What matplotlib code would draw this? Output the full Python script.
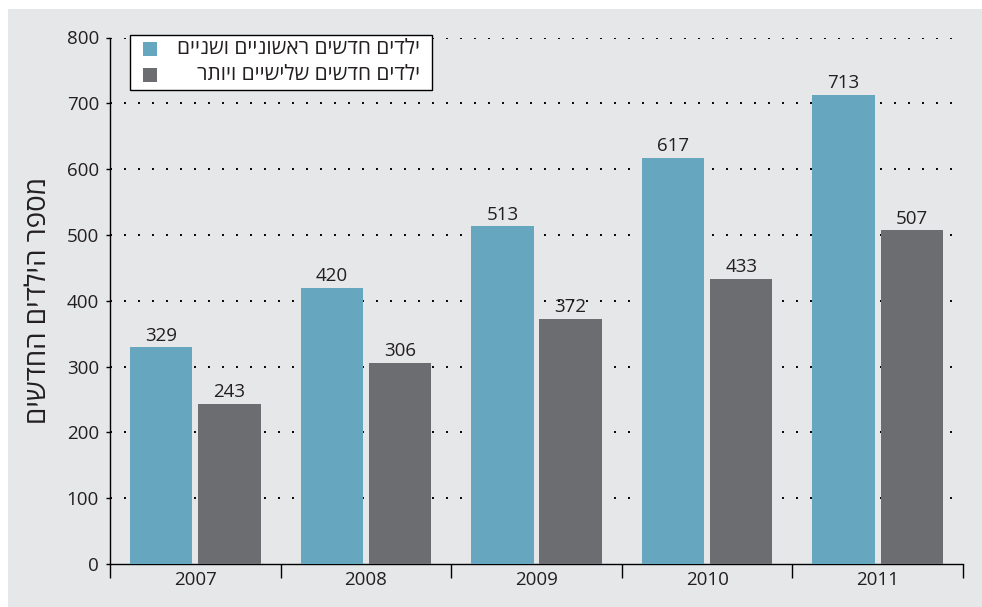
import matplotlib
matplotlib.use("Agg")
import matplotlib.pyplot as plt
from matplotlib.patches import Rectangle
import numpy as np

plt.rcParams['font.family'] = ['Open Sans', 'DejaVu Sans']

years = ['2007', '2008', '2009', '2010', '2011']
first_second = [329, 420, 513, 617, 713]
third_plus = [243, 306, 372, 433, 507]
series_names = ['ילדים חדשים ראשוניים ושניים', 'ילדים חדשים שלישיים ויותר']
y_label = 'מספר הילדים החדשים'
y_ticks = [0, 100, 200, 300, 400, 500, 600, 700, 800]

def rtl(s):
    return s[::-1]

BLUE = '#67a6bf'
GRAY = '#6c6d71'
BG = '#e6e7e9'
TXT = '#231f20'

W, H = 982, 607
fig = plt.figure(figsize=(W / 100, H / 100), dpi=100, facecolor='white')
fig.patches.append(Rectangle((8 / W, 0), 1, (H - 9) / H, transform=fig.transFigure,
                             facecolor=BG, edgecolor='none', zorder=-10))

ax = fig.add_axes([110 / W, (H - 564) / H, (963 - 110) / W, (564 - 37.5) / H])
ax.set_facecolor('none')

x = np.arange(len(years))
bw = 0.365
off = 0.2
b1 = ax.bar(x - off, first_second, bw, color=BLUE, zorder=3)
b2 = ax.bar(x + off, third_plus, bw, color=GRAY, zorder=3)

for bars, vals in ((b1, first_second), (b2, third_plus)):
    for r, v in zip(bars, vals):
        ax.annotate(str(v), (r.get_x() + r.get_width() / 2, v), xytext=(0, 2),
                    textcoords='offset points', ha='center', va='bottom',
                    fontsize=13.5, color=TXT, zorder=4)

ax.set_xlim(-0.5, len(years) - 0.5)
ax.set_ylim(0, 800)
ax.set_yticks(y_ticks)
ax.set_yticklabels([str(t) for t in y_ticks])
ax.set_xticks(x)
ax.set_xticklabels(years)
ax.set_xticks(np.arange(-0.5, len(years), 1), minor=True)
ax.tick_params(axis='x', which='major', length=0, pad=5, labelsize=13.5, labelcolor=TXT)
ax.tick_params(axis='x', which='minor', length=10, width=1, color='black', direction='out')
ax.tick_params(axis='y', length=3, width=1, pad=5, labelsize=13.5, labelcolor=TXT, direction='out')

for t in y_ticks[1:]:
    ax.axhline(t, color='black', lw=1.4, linestyle=(0, (1, 6.2)), dash_capstyle='butt',
               zorder=1)

for s in ('top', 'right'):
    ax.spines[s].set_visible(False)
ax.spines['left'].set_color('black')
ax.spines['bottom'].set_color('black')
ax.spines['left'].set_linewidth(1)
ax.spines['bottom'].set_linewidth(1)
ax.spines['bottom'].set_zorder(2)

fig.text(39 / W, 1 - 300 / H, rtl(y_label), rotation=90, ha='center', va='center',
         fontsize=20, color=TXT)

# legend (manual, right-aligned RTL text)
lx0, lx1, ly0, ly1 = 130, 432, 35, 90
fig.patches.append(Rectangle((lx0 / W, 1 - ly1 / H), (lx1 - lx0) / W, (ly1 - ly0) / H,
                             transform=fig.transFigure, facecolor='white',
                             edgecolor='black', lw=1, zorder=5))
for i, (name, col) in enumerate(zip(series_names, [BLUE, GRAY])):
    yc = 49 + i * 26
    fig.patches.append(Rectangle((143 / W, 1 - (yc + 7) / H), 14 / W, 14 / H,
                                 transform=fig.transFigure, facecolor=col,
                                 edgecolor='none', zorder=6))
    fig.text(420 / W, 1 - yc / H, rtl(name), ha='right', va='center', fontsize=15,
             color=TXT, zorder=6)

fig.savefig('out.png', dpi=100, facecolor='white')
